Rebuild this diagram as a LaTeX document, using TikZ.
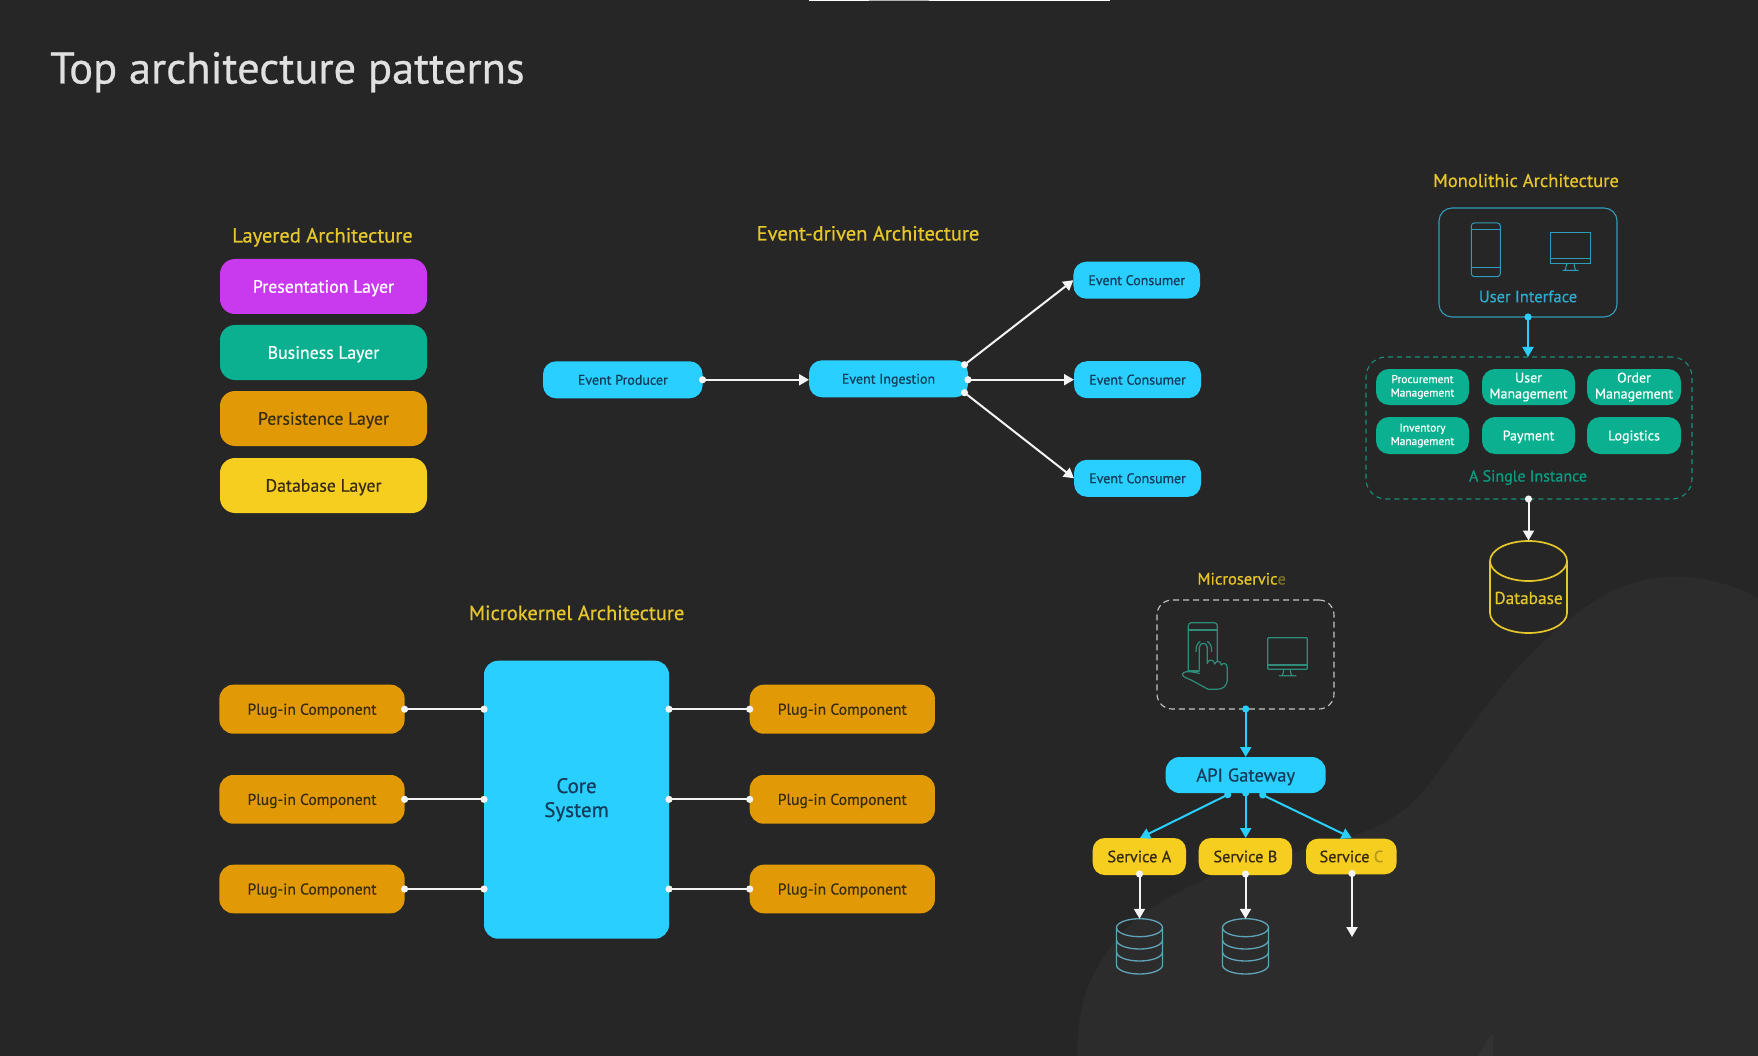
\documentclass[tikz,border=0pt]{standalone}
\usepackage{fontspec}
\setmainfont[FakeBold=0.6]{PT Sans}
\usetikzlibrary{arrows.meta}
\definecolor{bgdark}{HTML}{262626}
\definecolor{bglight}{HTML}{2C2C2C}
\definecolor{bgpatch}{HTML}{323232}
\definecolor{cpurple}{HTML}{C93AEE}
\definecolor{cteal}{HTML}{0AB08F}
\definecolor{corange}{HTML}{E19A06}
\definecolor{cyellow}{HTML}{F5CE20}
\definecolor{ccyan}{HTML}{29D0FF}
\definecolor{chead}{HTML}{E5C72B}
\definecolor{cdarktx}{HTML}{3A2C12}
\definecolor{cbluetx}{HTML}{123C5A}
\definecolor{cmute}{HTML}{2F9DB9}
\definecolor{cgreenln}{HTML}{178F78}
\definecolor{cgreenic}{HTML}{2F8C78}
\definecolor{cdbic}{HTML}{5FA4B8}
\definecolor{cwire}{HTML}{F4F4F4}
\newcommand{\fs}[1]{\fontsize{#1}{#1}\selectfont}
\newcommand{\bx}[7]{\pgfmathsetmacro\bxw{#4-#2}\pgfmathsetmacro\bxh{#5-#3}\node[#6,minimum width=\bxw pt,minimum height=\bxh pt] (#1) at ({(#2+#4)/2},{(#3+#5)/2}) {#7};}
\newcommand{\dbicon}[2]{\node[minimum width=46pt,minimum height=55.5pt,inner sep=0pt,outer sep=0pt] (#1) at (#2,946.5) {};
\begin{scope}[shift={(#2,0)},draw=cdbic,line width=1.3pt]
\draw (-23,927.7) arc[start angle=180,end angle=-180,x radius=23,y radius=9];
\draw (-23,927.7) -- (-23,965) arc[start angle=180,end angle=0,x radius=23,y radius=9] -- (23,927.7);
\draw (-23,940) arc[start angle=180,end angle=0,x radius=23,y radius=9];
\draw (-23,952) arc[start angle=180,end angle=0,x radius=23,y radius=9];
\end{scope}}
\newcommand{\monitor}{%
\draw[rounded corners=1pt] (293,83) rectangle (412,178);
\draw (293,165) -- (412,165);
\draw (342,178) -- (338,195) (360,178) -- (364,195) (328,197) -- (378,197);}
\tikzset{
 box/.style={rounded corners=15pt,inner sep=0pt,outer sep=0pt,align=center},
 mid/.style={text height=#1pt,text depth=0pt},
 hd/.style={anchor=base,text=chead,inner sep=0pt,font=\fs{20.5}},
 layer/.style={box,font=\fs{17.8},mid=12.4},
 evt/.style={box,fill=ccyan,rounded corners=13pt,text=cbluetx,font=\fs{14},mid=9.8},
 plug/.style={box,fill=corange,rounded corners=14pt,text=cdarktx,font=\fs{15.6},mid=11},
 mod/.style={box,fill=cteal,rounded corners=13pt,text=white},
 svc/.style={box,fill=cyellow,rounded corners=12pt,text=cdarktx,font=\fs{16.3},mid=11.4},
 wire/.style={draw=cwire,line width=2pt,{Circle[length=7pt]}-{Triangle[length=10pt,width=11pt]},shorten <=-3.5pt},
 bwire/.style={draw=ccyan,line width=2pt,{Circle[length=7pt]}-{Triangle[length=10pt,width=11pt]},shorten <=-3.5pt},
 link/.style={draw=cwire,line width=2pt,{Circle[length=7pt]}-{Circle[length=7pt]},shorten <=-3.5pt,shorten >=-3.5pt},
}
\begin{document}
\begin{tikzpicture}[x=1pt,y=-1pt]
\useasboundingbox (0,0) rectangle (1758,1056);
\fill[bgdark] (0,0) rectangle (1758,1056);
% background swoosh
\fill[bglight] (1077,1056) .. controls (1078,1010) and (1085,985) .. (1105,955)
 .. controls (1130,915) and (1170,895) .. (1215,875)
 .. controls (1270,855) and (1340,845) .. (1380,825)
 .. controls (1420,805) and (1435,775) .. (1456,747)
 .. controls (1480,715) and (1500,685) .. (1530,655)
 .. controls (1565,620) and (1610,580) .. (1665,577)
 .. controls (1700,575) and (1735,585) .. (1758,598)
 -- (1758,1056) -- cycle;
\fill[bgpatch] (1478,1056) .. controls (1483,1046) and (1488,1039) .. (1493,1033) -- (1493,1056) -- cycle;
% top strip
\fill[white] (809,0) rectangle (1110,1.2);
\fill[white!70!black] (869,0) rectangle (929,1.2);
% title
\node[anchor=base west,inner sep=0pt,text=white!88!black,font=\fs{44.5}] (title) at (50,83.5) {Top architecture patterns};

% Layered
\node[hd] (hlayer) at (322.5,242.5) {Layered Architecture};
\bx{l1}{220}{259}{427}{314}{layer,fill=cpurple,text=white}{Presentation Layer}
\bx{l2}{220}{325}{427}{380}{layer,fill=cteal,text=white}{Business Layer}
\bx{l3}{220}{391}{427}{446}{layer,fill=corange,text=cdarktx}{Persistence Layer}
\bx{l4}{220}{458}{427}{513}{layer,fill=cyellow,text=cdarktx}{Database Layer}

% Event-driven
\node[hd] (hevent) at (868,240.5) {Event-driven Architecture};
\bx{prod}{543}{361.3}{702.6}{398.3}{evt}{Event Producer}
\bx{ing}{809}{360.3}{968}{397.3}{evt}{Event Ingestion}
\bx{c1}{1073.4}{261.7}{1200}{298.7}{evt}{Event Consumer}
\bx{c2}{1074}{361.2}{1201}{398.2}{evt}{Event Consumer}
\bx{c3}{1074}{459.8}{1201}{496.8}{evt}{Event Consumer}
\coordinate (ingt) at (964.5,364.7);
\coordinate (ingb) at (964.5,392.7);
\draw[wire] (prod.east) -- (prod.east -| ing.west);
\draw[wire] (ingt) -- (c1.west);
\draw[wire] (ing.east |- c2.west) -- (c2.west);
\draw[wire] (ingb) -- (c3.west);

% Microkernel
\node[hd] (hkern) at (576.6,620) {Microkernel Architecture};
\bx{core}{484}{660.7}{669}{938.7}{box,fill=ccyan,rounded corners=14pt,text=cbluetx,font={\fontsize{21}{24}\selectfont}}{Core\\System}
\bx{pl1}{219.4}{684.7}{404.6}{733.7}{plug}{Plug-in Component}
\bx{pl2}{219.4}{775}{404.6}{823.7}{plug}{Plug-in Component}
\bx{pl3}{219.4}{864.7}{404.6}{913.3}{plug}{Plug-in Component}
\bx{pr1}{749.7}{684.7}{934.9}{733.7}{plug}{Plug-in Component}
\bx{pr2}{749.7}{775}{934.9}{823.7}{plug}{Plug-in Component}
\bx{pr3}{749.7}{864.7}{934.9}{913.3}{plug}{Plug-in Component}
\draw[link] (pl1.east) -- (pl1.east -| core.west);
\draw[link] (pl2.east) -- (pl2.east -| core.west);
\draw[link] (pl3.east) -- (pl3.east -| core.west);
\draw[link] (pr1.west -| core.east) -- (pr1.west);
\draw[link] (pr2.west -| core.east) -- (pr2.west);
\draw[link] (pr3.west -| core.east) -- (pr3.west);

% Monolithic
\node[hd,font=\fs{18.5}] (hmono) at (1526,187) {Monolithic Architecture};
\bx{ui}{1439}{208}{1617}{317}{box,draw=cmute,line width=1.1pt,rounded corners=13pt}{}
\node[inner sep=0pt,text=cmute!70!ccyan,font=\fs{16.5}] (uitx) at (1528,296.5) {User Interface};
\begin{scope}[shift={(1340,160)},x=0.3333pt,y=-0.3333pt,draw=cmute,line width=1pt]
\draw[rounded corners=3pt] (394,189) rectangle (481,350);
\draw (394,210) -- (481,210) (394,322) -- (481,322);
\draw (631,217) rectangle (751,312);
\draw (631,297) -- (751,297);
\draw (680,312) -- (676,330) (702,312) -- (706,330) (668,331) -- (716,331);
\end{scope}
\bx{inst}{1366}{357}{1692}{499}{box,draw=cgreenln,line width=1.1pt,dash pattern=on 5pt off 4pt,rounded corners=20pt}{}
\bx{m1}{1376}{369}{1469}{405}{mod,font={\fontsize{11.4}{13.5}\selectfont}}{Procurement\\Management}
\bx{m2}{1482}{369}{1575}{405}{mod,font={\fontsize{14}{16}\selectfont}}{User\\Management}
\bx{m3}{1587}{369}{1681}{405}{mod,font={\fontsize{14}{16}\selectfont}}{Order\\Management}
\bx{m4}{1376}{417}{1469}{454}{mod,font={\fontsize{11.4}{13.5}\selectfont}}{Inventory\\Management}
\bx{m5}{1482}{417}{1575}{454}{mod,font=\fs{14},mid=9.8}{Payment}
\bx{m6}{1587}{417}{1681}{454}{mod,font=\fs{14},mid=9.8}{Logistics}
\node[inner sep=0pt,text=cteal!90!black,font=\fs{16}] (instx) at (1528,477.5) {A Single Instance};
\draw[bwire] (ui.south) -- (inst.north -| ui.south);
\node[minimum width=77pt,minimum height=93pt,inner sep=0pt,outer sep=0pt] (db) at (1528.5,587) {};
\node[inner sep=0pt,text=chead,font=\fs{17.3}] (dbtx) at (1528.5,598) {Database};
\draw[chead,line width=1.7pt] (1490,561) arc[start angle=180,end angle=-180,x radius=38.5,y radius=20];
\draw[chead,line width=1.7pt] (1490,561) -- (1490,613) arc[start angle=180,end angle=0,x radius=38.5,y radius=20] -- (1567,561);
\draw[wire] (inst.south -| db.north) -- (db.north);

% Microservice
\node[hd,font=\fs{16.5}] (hmicro) at (1241.7,584.5) {Microservic{\color{chead!45!bgdark}e}};
\bx{cli}{1157}{600}{1334}{709}{box,draw=white!78!black,line width=1.1pt,dash pattern=on 6pt off 4pt,rounded corners=15pt}{}
\begin{scope}[shift={(1170,610)},x=0.3333pt,y=-0.3333pt,draw=cgreenic,line width=1.2pt,line join=round,line cap=round]
\draw[rounded corners=3pt] (55,183) -- (55,38) -- (142,38) -- (142,155);
\draw (55,60) -- (142,60);
\draw (55,183) -- (88,183);
\draw (88,178) -- (88,112) .. controls (88,96) and (112,96) .. (112,112) -- (112,160);
\draw (112,158) .. controls (118,146) and (132,148) .. (134,162) .. controls (138,150) and (152,152) .. (154,165) .. controls (160,156) and (172,160) .. (172,175) -- (172,205) .. controls (172,228) and (160,238) .. (140,238) -- (115,238) .. controls (95,228) and (70,212) .. (45,202) .. controls (32,196) and (38,186) .. (50,185) .. controls (62,184) and (76,188) .. (88,190);
\draw (78,125) .. controls (76,105) and (88,95) .. (90,95);
\draw (125,125) .. controls (127,105) and (115,95) .. (112,95);
\monitor
\end{scope}
\bx{gw}{1165.7}{757}{1325.7}{793}{box,fill=ccyan,rounded corners=14pt,text=cbluetx,font=\fs{18.5},mid=13}{API Gateway}
\bx{sa}{1092.7}{838}{1186}{875}{svc}{Service A}
\bx{sb}{1198.7}{838}{1292}{875}{svc}{Service B}
\bx{sc}{1306}{838.7}{1396.7}{874.3}{svc}{Service {\color{cdarktx!35!cyellow}C}}
\draw[bwire] (cli.south -| gw.south) -- (gw.north);
\coordinate (gwl) at (1227.7,794.7);
\coordinate (gwr) at (1262.7,795);
\coordinate (sat) at (1140,838);
\coordinate (sct) at (1351.7,838);
\draw[bwire] (gwl) -- (sat);
\draw[bwire] (gw.south) -- (gw.south |- sb.north);
\draw[bwire] (gwr) -- (sct);
\dbicon{dba}{1139.5}
\dbicon{dbb}{1245.5}
\coordinate (sab) at (1139.5,874);
\coordinate (sbb) at (1245.5,874);
\coordinate (scb) at (1352,873.5);
\coordinate (scend) at (1352,937);
\draw[wire] (sab) -- (dba.north);
\draw[wire] (sbb) -- (dbb.north);
\draw[wire] (scb) -- (scend);
\end{tikzpicture}
\end{document}
